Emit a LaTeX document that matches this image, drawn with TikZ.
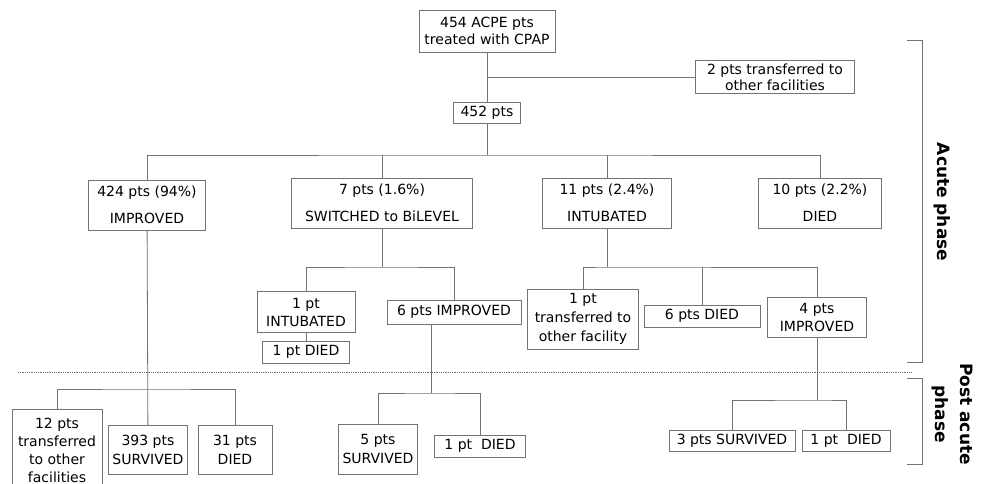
\documentclass[tikz,border=0pt]{standalone}
\usepackage{fontspec}
\setmainfont{DejaVu Sans}
\tikzset{
  box/.style={draw=black!55, line width=0.8pt, fill=white, align=center, inner sep=0pt, font=\fontsize{14}{18}\selectfont},
  wide/.style={box, font=\fontsize{14}{27}\selectfont},
  link/.style={draw=black!55, line width=0.8pt},
  phase/.style={font=\fontsize{17}{25}\selectfont\bfseries, align=center, rotate=-90}
}
\begin{document}
\begin{tikzpicture}[x=1pt,y=-1pt]
      \useasboundingbox (0,0) rectangle (986,484);
      % acute phase
      \node[box, font=\fontsize{14}{17}\selectfont, minimum width=136pt, minimum height=42pt] (top) at (487,31) {454 ACPE pts\\treated with CPAP};
      \node[box, font=\fontsize{14}{16}\selectfont, minimum width=159pt, minimum height=33pt] (xfer) at (775,77) {2 pts transferred to\\other facilities};
      \node[box, minimum width=67pt, minimum height=21pt] (n452) at (487,113) {452 pts};
      \node[wide, minimum width=117pt, minimum height=50pt] (imp) at (147,205) {424 pts (94\%)\\IMPROVED};
      \node[wide, minimum width=181pt, minimum height=50pt] (bil) at (382,203) {7 pts (1.6\%)\\SWITCHED to BiLEVEL};
      \node[wide, minimum width=129pt, minimum height=50pt] (intub) at (607,203) {11 pts (2.4\%)\\INTUBATED};
      \node[wide, minimum width=123pt, minimum height=50pt] (died) at (820,203) {10 pts (2.2\%)\\DIED};
      \node[box, minimum width=98pt, minimum height=41pt] (intA) at (306,312) {1 pt\\INTUBATED};
      \node[box, minimum width=87pt, minimum height=22pt] (diedA) at (306,352) {1 pt DIED};
      \node[box, minimum width=134pt, minimum height=24pt] (impA) at (454,312) {6 pts IMPROVED};
      \node[box, font=\fontsize{14}{19}\selectfont, minimum width=111pt, minimum height=60pt] (xferC) at (583,319) {1 pt\\transferred to\\other facility};
      \node[box, minimum width=116pt, minimum height=22pt] (diedC) at (702,316) {6 pts DIED};
      \node[box, minimum width=99pt, minimum height=40pt] (impC) at (817,317) {4 pts\\IMPROVED};
      % post acute phase
      \node[box, font=\fontsize{14}{18}\selectfont, minimum width=90pt, minimum height=82pt] (xferE) at (57,450) {12 pts\\transferred\\to other\\facilities};
      \node[box, font=\fontsize{14}{19}\selectfont, minimum width=79pt, minimum height=49pt] (survE) at (148,450) {393 pts\\SURVIVED};
      \node[box, font=\fontsize{14}{19}\selectfont, minimum width=74pt, minimum height=49pt] (diedE) at (235,450) {31 pts\\DIED};
      \node[box, font=\fontsize{14}{19}\selectfont, minimum width=79pt, minimum height=50pt] (survB) at (378,449) {5 pts\\SURVIVED};
      \node[box, minimum width=91pt, minimum height=22pt] (diedB) at (480,446) {1 pt~ DIED};
      \node[box, minimum width=126pt, minimum height=21pt] (survD) at (732,441) {3 pts SURVIVED};
      \node[box, minimum width=88pt, minimum height=21pt] (diedD) at (846,441) {1 pt~ DIED};
      % buses
      \coordinate (bus1) at (487,155);
      \coordinate (bus2) at (382,267);
      \coordinate (bus3) at (431,393);
      \coordinate (bus4) at (607,267);
      \coordinate (bus5) at (817,400);
      \coordinate (bus6) at (147,389);
      \draw[link] (top) -- (n452);
      \draw[link] (top.south |- xfer) -- (xfer);
      \draw[link] (n452) -- (bus1);
      \draw[link] (imp) |- (bus1) -| (died);
      \draw[link] (bil) -- (bil |- bus1);
      \draw[link] (intub) -- (intub |- bus1);
      \draw[link] (bil) -- (bus2);
      \draw[link] (intA) |- (bus2) -| (impA);
      \draw[link] (intA) -- (diedA);
      \draw[link] ([xshift=-23pt]impA.south) -- (bus3);
      \draw[link] (survB) |- (bus3) -| (diedB);
      \draw[link] (intub) -- (bus4);
      \draw[link] (xferC) |- (bus4) -| (impC);
      \draw[link] (diedC) -- (diedC |- bus4);
      \draw[link] (impC) -- (bus5);
      \draw[link] (survD) |- (bus5) -| (diedD);
      \draw[link] (imp) -- (survE);
      \draw[link] (xferE) |- (bus6) -| (diedE);
      % phases
      \draw[black!55, densely dotted, line width=0.8pt] (18,372) -- (911,372);
      \draw[link] (907,40) -- (922,40) -- (922,362) -- (907,362);
      \draw[link] (907,378) -- (922,378) -- (922,464) -- (907,464);
      \node[phase] (acute) at (942,202) {Acute phase};
      \node[phase] (post) at (952,414) {Post acute\\phase};
    \end{tikzpicture}
\end{document}
